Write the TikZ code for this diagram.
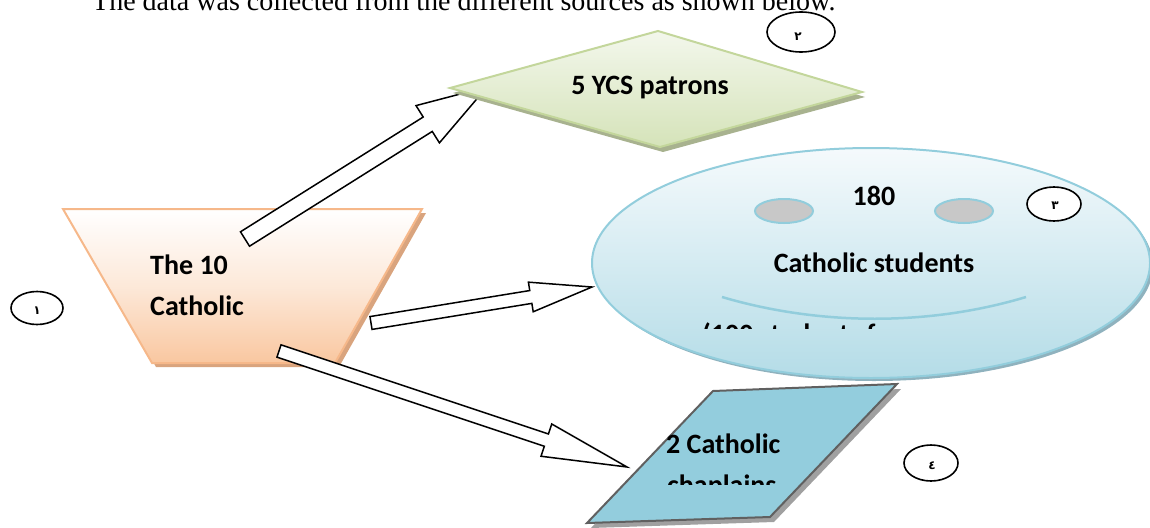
\documentclass[tikz,border=0pt]{standalone}
\usepackage{fontspec}
\setmainfont{Liberation Serif}
\newfontfamily\calfont{Carlito}
\newfontfamily\arabicfont[Script=Arabic]{DejaVu Sans}
\TeXXeTstate=1
\usetikzlibrary{calc,shapes.geometric}
\definecolor{trapTop}{HTML}{FFFFFF}
\definecolor{trapBot}{HTML}{F9C7A0}
\definecolor{trapLine}{HTML}{F6B88A}
\definecolor{trapShadow}{HTML}{D9A47E}
\definecolor{diaTop}{HTML}{F3F7EC}
\definecolor{diaBot}{HTML}{D5E3B9}
\definecolor{diaLine}{HTML}{C3D69B}
\definecolor{diaShadow}{HTML}{A8B28F}
\definecolor{ellTop}{HTML}{F5FAFC}
\definecolor{ellBot}{HTML}{B4DCE7}
\definecolor{ellLine}{HTML}{92CDDC}
\definecolor{ellShadow}{HTML}{8FB2BE}
\definecolor{eyeFill}{HTML}{C8C8C8}
\definecolor{parFill}{HTML}{93CDDD}
\definecolor{parLine}{HTML}{606060}
\definecolor{parShadow}{HTML}{A0A0A0}
\tikzset{
  blockarr/.style={draw=black, line width=1.5pt, fill=white, line join=miter},
  lbl/.style={font=\calfont\bfseries\fontsize{28}{34}\selectfont, inner sep=0pt},
  numcirc/.style={draw=black, line width=1.6pt, fill=white, ellipse, inner sep=0pt},
  numtxt/.style={font=\arabicfont\bfseries\fontsize{12}{13}\selectfont, inner sep=0pt},
}
\newcommand\blockarrow[5]{%
  \coordinate (hb) at ($(#2)!#5!(#1)$);
  \draw[blockarr] ($(#1)!#3!90:(#2)$) -- ($(hb)!#3!-90:(#1)$) -- ($(hb)!#4!-90:(#1)$)
    -- (#2) -- ($(hb)!#4!90:(#1)$) -- ($(hb)!#3!90:(#1)$) -- ($(#1)!#3!-90:(#2)$) -- cycle;
}
\begin{document}
\begin{tikzpicture}[x=1pt,y=-1pt]
\useasboundingbox (0,0) rectangle (1150,527);
% title line (cut at the top, as in the source)
\node[anchor=base west, font=\fontsize{28}{32}\selectfont, inner sep=0pt] (title) at (92,11)
  {The data was collected from the different sources as shown below.};
% trapezoid
\coordinate (tTL) at (63,209); \coordinate (tTR) at (422,209);
\coordinate (tBR) at (335,363); \coordinate (tBL) at (152,363);
\fill[trapShadow] ([shift={(4,4)}]tTL) -- ([shift={(4,4)}]tTR) -- ([shift={(4,4)}]tBR) -- ([shift={(4,4)}]tBL) -- cycle;
\draw[trapLine, line width=2pt, top color=trapTop, bottom color=trapBot, middle color=trapTop!60!trapBot]
  (tTL) -- (tTR) -- (tBR) -- (tBL) -- cycle;
% arrows
\coordinate (a1s) at (245,239); \coordinate (a1e) at (487,87);
\coordinate (a2s) at (371,323); \coordinate (a2e) at (592,287);
\coordinate (a3s) at (279,351); \coordinate (a3e) at (627,467);
\blockarrow{a1s}{a1e}{8.5pt}{22pt}{70pt}
\blockarrow{a2s}{a2e}{6.5pt}{15pt}{62pt}
\blockarrow{a3s}{a3e}{6.5pt}{17pt}{85pt}
% diamond
\coordinate (dL) at (450,88); \coordinate (dT) at (658,31);
\coordinate (dR) at (862,92); \coordinate (dB) at (660,147);
\fill[diaShadow] ([shift={(3,5)}]dL) -- ([shift={(3,5)}]dT) -- ([shift={(3,5)}]dR) -- ([shift={(3,5)}]dB) -- cycle;
\draw[diaLine, line width=2pt, top color=diaTop, bottom color=diaBot]
  (dL) -- (dT) -- (dR) -- (dB) -- cycle;
\node[lbl, anchor=base] (ycs) at (650,94) {5 YCS patrons};
% big ellipse
\fill[ellShadow] (874,266) ellipse [x radius=279, y radius=115];
\draw[ellLine, line width=2pt, top color=ellTop, bottom color=ellBot] (871,263) ellipse [x radius=279, y radius=115];
\coordinate (stud) at (871,263);
\draw[ellLine, line width=2pt, fill=eyeFill] (784,211) ellipse [x radius=29, y radius=12];
\draw[ellLine, line width=2pt, fill=eyeFill] (964,211) ellipse [x radius=29, y radius=12];
\draw[ellLine, line width=2.5pt] (722,297) .. controls (820,326) and (930,326) .. (1026,297);
\node[lbl, anchor=base] (n180) at (874,205) {180};
\node[lbl, anchor=base] (cstud) at (874,272) {Catholic students};
\begin{scope}
  \clip (600,150) rectangle (1150,328);
  \node[lbl, anchor=base west] (stud3) at (702,343) {(100 students from};
\end{scope}
% parallelogram
\coordinate (pTL) at (713,391); \coordinate (pTR) at (897,384);
\coordinate (pBR) at (770,517); \coordinate (pBL) at (587,523);
\fill[parShadow] ([shift={(4,5)}]pTL) -- ([shift={(4,5)}]pTR) -- ([shift={(4,5)}]pBR) -- ([shift={(4,5)}]pBL) -- cycle;
\draw[parLine, line width=2pt, fill=parFill] (pTL) -- (pTR) -- (pBR) -- (pBL) -- cycle;
\node[lbl, anchor=base west] (chap1) at (666,453) {2 Catholic};
\begin{scope}
  \clip (600,400) rectangle (900,484);
  \node[lbl, anchor=base west] (chap2) at (667,494) {chaplains};
\end{scope}
% trapezoid text
\node[lbl, anchor=base west] (t10a) at (150,274) {The 10};
\node[lbl, anchor=base west] (t10b) at (150,315) {Catholic};
% numbered circles
\node[numcirc, minimum width=68, minimum height=40] (c2) at (801,32) {};
\node[numtxt] (c2t) at (798,37) {\beginR ٢\endR};
\node[numcirc, minimum width=52, minimum height=33] (c1) at (37,308) {};
\node[numtxt] (c1t) at (37,311) {\beginR ١\endR};
\node[numcirc, minimum width=54, minimum height=34] (c3) at (1054,204) {};
\node[numtxt] (c3t) at (1055,206) {\beginR ٣\endR};
\node[numcirc, minimum width=54, minimum height=36] (c4) at (931,463) {};
\node[numtxt] (c4t) at (932,466) {\beginR ٤\endR};
\end{tikzpicture}
\end{document}
